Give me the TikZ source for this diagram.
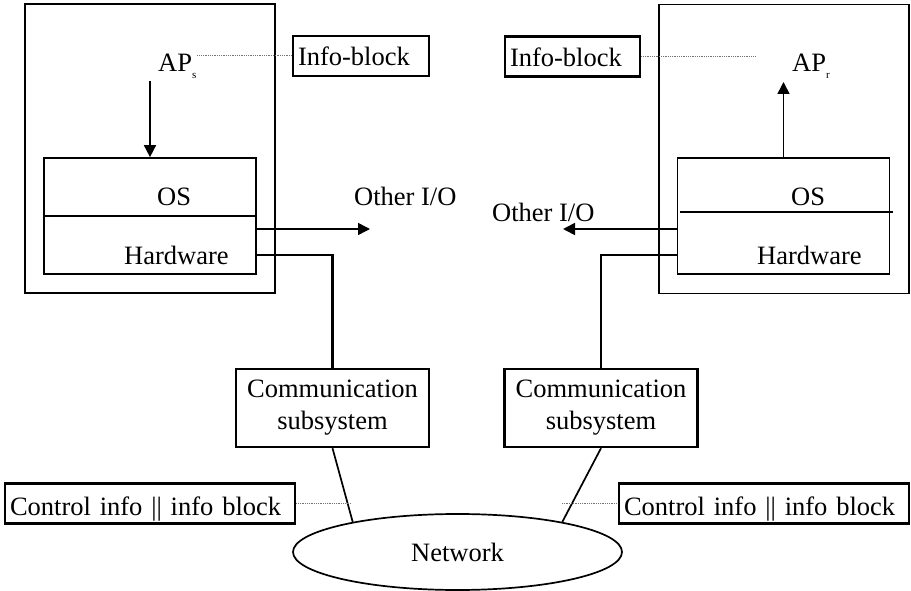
\documentclass[tikz,border=0pt]{standalone}
\usepackage{fontspec}
\setmainfont{Liberation Serif}
\usetikzlibrary{arrows.meta,shapes.geometric}
\begin{document}
\begin{tikzpicture}[x=1pt,y=-1pt,
  every node/.style={font=\fontsize{26.5}{32}\selectfont},
  host/.style={draw, line width=1.7pt, inner sep=0pt, minimum width=250pt, minimum height=289pt},
  stack/.style={draw, line width=1.7pt, inner sep=0pt, minimum width=212pt, minimum height=116pt},
  tag/.style={draw, line width=2.4pt, inner xsep=5pt, inner ysep=0pt, align=left,
              text height=20pt, text depth=0pt, minimum height=40pt},
  commbox/.style={draw, line width=2.4pt, inner sep=0pt, align=center,
              minimum width=193pt, minimum height=78pt},
  lbl/.style={inner sep=0pt},
  link/.style={line width=2.2pt},
  wire/.style={line width=1.7pt},
  flow/.style={line width=1.6pt, -{Triangle[length=12pt,width=12pt]}},
  guide/.style={line width=1pt, black!55, dash pattern=on 0.9pt off 0.9pt},
  divider/.style={line width=2.2pt}
]
\useasboundingbox (0,0) rectangle (911,591);

% ---- sending host ----
\node[host]  (lhost)  at (150,148.5) {};
\node[stack] (lstack) at (150,216) {};
\draw[divider] (lstack.west) -- (lstack.east);
\node[lbl, anchor=base west] (los) at (157,206) {OS};
\node[lbl, anchor=base west] (lhw) at (124,264) {Hardware};
\node[lbl, anchor=base west] (laps) at (158,72)
  {AP\raisebox{-7pt}{\fontsize{11}{11}\selectfont s}};
\node[tag, text width=126pt] (linfo) at (361,56) {Info-block};
\coordinate (lapin) at (150,81);
\draw[flow] (lapin) -- (lapin |- lstack.north);
\draw[guide] (linfo.west) -- (linfo.west -| laps.north east);

% ---- receiving host ----
\node[host]  (rhost)  at (784,149) {};
\node[stack] (rstack) at (783.5,216) {};
\draw[divider] ([xshift=3pt,yshift=4pt]rstack.west) -- ([xshift=3pt,yshift=4pt]rstack.east);
\node[lbl, anchor=base west] (ros) at (791,206) {OS};
\node[lbl, anchor=base west] (rhw) at (757,264) {Hardware};
\node[lbl, anchor=base west] (rapr) at (792,72)
  {AP\raisebox{-7pt}{\fontsize{11}{11}\selectfont r}};
\node[tag, text width=125pt] (rinfo) at (572.5,56.5) {Info-block};
\coordinate (rapout) at (783.5,82);
\draw[flow] (rstack.north) -- (rapout);
\coordinate (rdot) at (755,56.5);
\draw[guide] (rinfo.east) -- (rdot);

% ---- other I/O ----
\node[lbl, anchor=base west] (lio) at (354,206) {Other I/O};
\node[lbl, anchor=base west] (rio) at (492,222) {Other I/O};
\coordinate (lioend) at (370,229);
\coordinate (rioend) at (563,229);
\draw[flow] (lioend -| lstack.east) -- (lioend);
\draw[flow] (rioend -| rstack.west) -- (rioend);

% ---- communication subsystems ----
\node[commbox] (lcomm) at (332.5,408) {Communication\\subsystem};
\node[commbox] (rcomm) at (601,408) {Communication\\subsystem};
\draw[link] (lstack.east |- lhw) -| (lcomm.north);
\draw[link] (rstack.west |- rhw) -| (rcomm.north);

% ---- network ----
\node[draw, ellipse, line width=1.7pt, inner sep=0pt,
      minimum width=329pt, minimum height=76pt] (net) at (457.5,552) {Network};
\draw[wire] (lcomm.south) -- (net.164);
\draw[wire] (rcomm.south) -- (net.16);

% ---- frames on the wire ----
\node[tag, text width=280pt, text height=23pt] (lctl) at (150,503.5) {Control info || info block};
\node[tag, text width=280pt, text height=23pt] (rctl) at (764,503.5) {Control info || info block};
\coordinate (lctlend) at (351,503.5);
\coordinate (rctlend) at (562,503.5);
\draw[guide] (lctl.east) -- (lctlend);
\draw[guide] (rctlend) -- (rctl.west);
\end{tikzpicture}
\end{document}
